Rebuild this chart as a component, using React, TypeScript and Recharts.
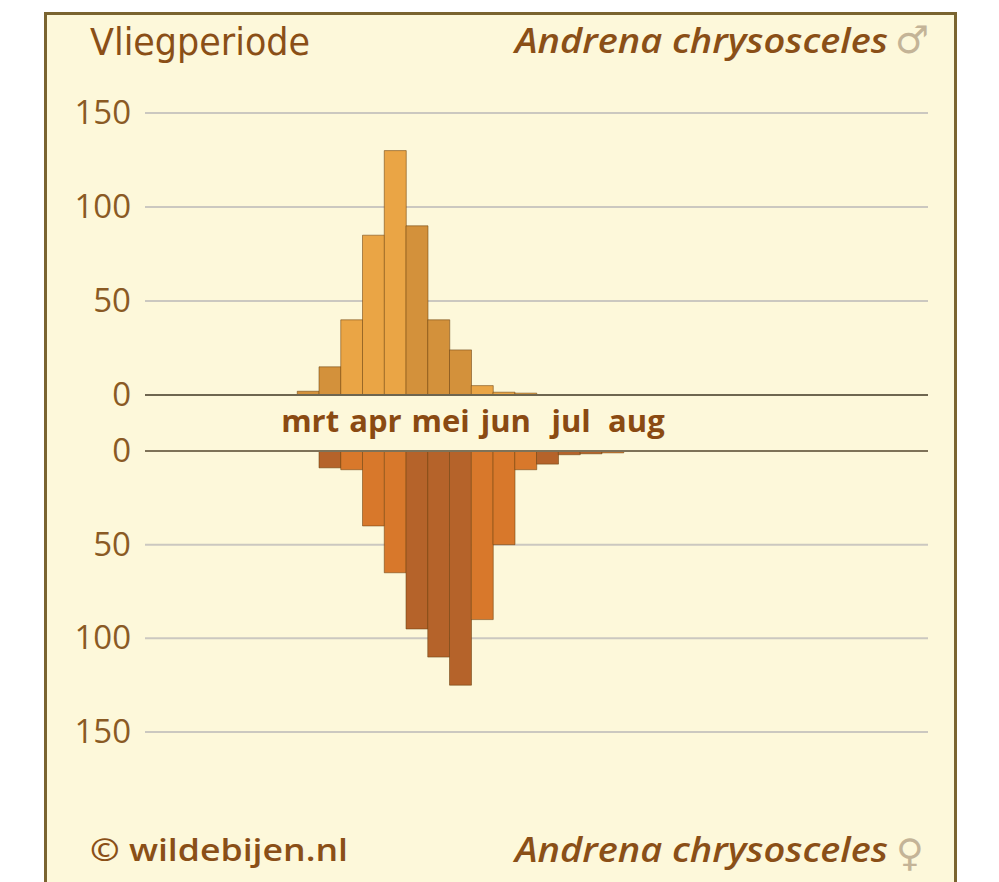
import { BarChart, Bar, XAxis, YAxis, CartesianGrid, ReferenceLine, Cell } from 'recharts';

// flight period per decade (3 per month, jan..dec)
const months = ['jan', 'feb', 'mrt', 'apr', 'mei', 'jun', 'jul', 'aug', 'sep', 'okt', 'nov', 'dec'];
const shownMonths = ['mrt', 'apr', 'mei', 'jun', 'jul', 'aug'];
const decades = months.flatMap((m) => [m + '1', m + '2', m + '3']);

const males = [
  0, 0, 0, 0, 0, 0,
  0, 2, 15,
  40, 85, 130,
  90, 40, 24,
  5, 1.5, 1,
  0, 0, 0,
  0, 0, 0,
  0, 0, 0, 0, 0, 0, 0, 0, 0, 0, 0, 0,
];

const females = [
  0, 0, 0, 0, 0, 0,
  0, 0, 9,
  10, 40, 65,
  95, 110, 125,
  90, 50, 10,
  7, 2, 1.5,
  1, 0, 0,
  0, 0, 0, 0, 0, 0, 0, 0, 0, 0, 0, 0,
];

const yTicks = [0, 50, 100, 150];

const maleData = decades.map((d, i) => ({ decade: d, value: males[i] }));
const femaleData = decades.map((d, i) => ({ decade: d, value: females[i] }));

const bg = '#fdf8da';
const brown = '#8a4f17';
const tickColor = '#8a5a24';
const font = "'Open Sans', 'Noto Sans', sans-serif";
const narrow = "'Liberation Sans Narrow', 'DejaVu Sans Condensed', 'Open Sans', sans-serif";

const maleColors = ['#d3913b', '#eaa545'];
const femaleColors = ['#b5632a', '#d8782b'];

const monthIdx = (i: number) => Math.floor(i / 3);

function YTick(props: any) {
  const { x, y, payload } = props;
  return (
    <text x={x} y={y} dy={11} textAnchor="end" fontFamily={font} fontSize={33} fill={tickColor}>
      {payload.value}
    </text>
  );
}

function MonthTick(props: any) {
  const { x, y, payload } = props;
  const i = decades.indexOf(String(payload.value));
  const m = months[monthIdx(i)];
  if (i % 3 !== 1 || !shownMonths.includes(m)) return <g />;
  return (
    <text x={x + 2} y={y + 37} textAnchor="middle" fontFamily={font} fontWeight={700} fontSize={31} fill="#8a4a12">
      {m}
    </text>
  );
}

const W = 999;
const H = 882;
const AX_H = 56;

export default function App() {
  return (
    <div style={{ position: 'absolute', left: 0, top: 0, width: W, height: H, background: '#fff', overflow: 'hidden' }}>
      <div
        style={{
          position: 'absolute',
          left: 44,
          top: 12,
          width: 907,
          height: 900,
          background: bg,
          border: '3px solid #7a6430',
        }}
      />
      <div style={{ position: 'absolute', left: 0, top: 0 }}>
        <BarChart width={W} height={H} data={maleData} barCategoryGap={0} margin={{ top: 113, right: 71, bottom: H - 395 - AX_H, left: 0 }}>
          <CartesianGrid vertical={false} stroke="#cbc8c0" strokeWidth={2} />
          <XAxis dataKey="decade" height={AX_H} axisLine={false} tickLine={false} tickSize={0} tickMargin={0} interval={0} tick={<MonthTick />} />
          <YAxis width={145} domain={[0, 150]} ticks={yTicks} axisLine={false} tickLine={false} tickSize={6} tickMargin={8} tick={<YTick />} />
          <Bar dataKey="value" isAnimationActive={false} stroke="#6b4210" strokeOpacity={0.55} strokeWidth={1}>
            {maleData.map((_, i) => (
              <Cell key={i} fill={maleColors[monthIdx(i) % 2]} />
            ))}
          </Bar>
          <ReferenceLine y={0} stroke="#6e6650" strokeWidth={2} />
        </BarChart>
      </div>
      <div style={{ position: 'absolute', left: 0, top: 0 }}>
        <BarChart width={W} height={H} data={femaleData} barCategoryGap={0} margin={{ top: 451, right: 71, bottom: H - 732, left: 0 }}>
          <CartesianGrid vertical={false} stroke="#cbc8c0" strokeWidth={2} />
          <XAxis dataKey="decade" hide />
          <YAxis width={145} reversed domain={[0, 150]} ticks={yTicks} axisLine={false} tickLine={false} tickSize={6} tickMargin={8} tick={<YTick />} />
          <Bar dataKey="value" isAnimationActive={false} stroke="#6b4210" strokeOpacity={0.55} strokeWidth={1}>
            {femaleData.map((_, i) => (
              <Cell key={i} fill={femaleColors[monthIdx(i) % 2]} />
            ))}
          </Bar>
          <ReferenceLine y={0} stroke="#7e7258" strokeWidth={2} />
        </BarChart>
      </div>
      <svg width={W} height={H} style={{ position: 'absolute', left: 0, top: 0 }}>
        <text x={90} y={55} fontFamily={narrow} fontSize={37} fill={brown} textLength={220} lengthAdjust="spacingAndGlyphs">
          Vliegperiode
        </text>
        <text x={515} y={53} fontFamily={font} fontStyle="italic" fontWeight={600} fontSize={34} fill={brown} textLength={373} lengthAdjust="spacingAndGlyphs">
          Andrena chrysosceles
        </text>
        <text x={895} y={53} fontFamily="'DejaVu Sans', sans-serif" fontSize={38} fill="#c4b497">
          ♂
        </text>
        <text x={90} y={861} fontFamily={font} fontWeight={600} fontSize={31} fill={brown} textLength={258} lengthAdjust="spacingAndGlyphs">
          © wildebijen.nl
        </text>
        <text x={515} y={862} fontFamily={font} fontStyle="italic" fontWeight={600} fontSize={34} fill={brown} textLength={373} lengthAdjust="spacingAndGlyphs">
          Andrena chrysosceles
        </text>
        <text x={896} y={866} fontFamily="'DejaVu Sans', sans-serif" fontSize={38} fill="#c4b497">
          ♀
        </text>
      </svg>
    </div>
  );
}
